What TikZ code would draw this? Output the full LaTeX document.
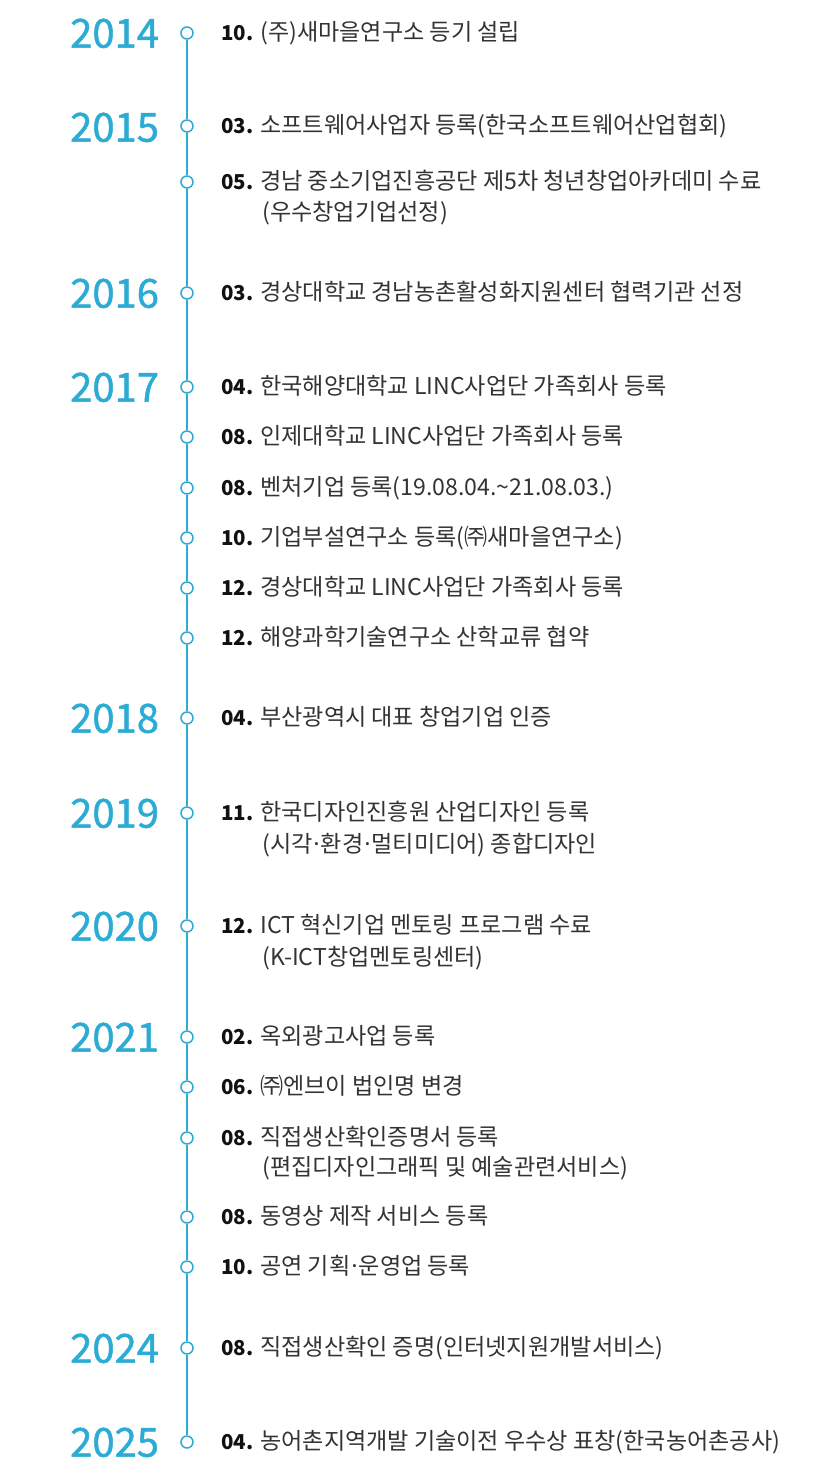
\documentclass[tikz,border=0pt]{standalone}
\usepackage{fontspec}
\setmainfont{Noto Sans CJK KR}
\newfontfamily\yearfont[FakeBold=1.2]{Noto Sans CJK KR}
\definecolor{tlblue}{HTML}{2CACD5}
\definecolor{txtgray}{HTML}{333333}
\definecolor{numblack}{HTML}{111111}
\begin{document}
\begin{tikzpicture}[x=1pt,y=-1pt,
  yearlbl/.style={anchor=base west, text=tlblue, font=\yearfont\fontsize{40}{40}\selectfont, inner sep=0pt},
  itemlbl/.style={anchor=base west, text=txtgray, font=\fontsize{23.1}{26}\selectfont, inner sep=0pt},
  tldot/.style={circle, draw=tlblue, fill=white, line width=1.5pt, minimum size=12pt, inner sep=0pt},
  tlline/.style={draw=tlblue, line width=1.4pt}]
\useasboundingbox[fill=white] (0,0) rectangle (834,1480);
\newcommand\num[1]{{\fontsize{20.5}{24}\selectfont\bfseries\color{numblack}#1}}
\newcommand\md{\kern-0.1em·\kern-0.1em}
\newcommand\tlitem[4]{%
  \node[tldot] (d#1) at (187,#2) {};
  \node[itemlbl] (t#1) at (221,#2+7.8) {\num{#3} #4};}
\newcommand\tlcont[3]{%
  \node[itemlbl] (u#1) at (262,#2+7.8) {#3};}
\newcommand\tlyear[3]{%
  \node[yearlbl] (y#1) at (70,#2+14.7) {#3};}

% years
\tlyear{a}{33}{2014}
\tlyear{b}{127}{2015}
\tlyear{d}{293}{2016}
\tlyear{e}{387}{2017}
\tlyear{k}{718}{2018}
\tlyear{l}{813}{2019}
\tlyear{m}{926}{2020}
\tlyear{n}{1037}{2021}
\tlyear{s}{1348}{2024}
\tlyear{t}{1442}{2025}

% items
\tlitem{a}{33}{10.}{(주)새마을연구소 등기 설립}
\tlitem{b}{126}{03.}{소프트웨어사업자 등록(한국소프트웨어산업협회)}
\tlitem{c}{182}{05.}{경남 중소기업진흥공단 제5차 청년창업아카데미 수료}
\tlcont{c}{213}{(우수창업기업선정)}
\tlitem{d}{293}{03.}{경상대학교 경남농촌활성화지원센터 협력기관 선정}
\tlitem{e}{387}{04.}{한국해양대학교 LINC사업단 가족회사 등록}
\tlitem{f}{437}{08.}{인제대학교 LINC사업단 가족회사 등록}
\tlitem{g}{488}{08.}{벤처기업 등록(19.08.04.\textasciitilde21.08.03.)}
\tlitem{h}{538}{10.}{기업부설연구소 등록(㈜새마을연구소)}
\tlitem{i}{588}{12.}{경상대학교 LINC사업단 가족회사 등록}
\tlitem{j}{638}{12.}{해양과학기술연구소 산학교류 협약}
\tlitem{k}{718}{04.}{부산광역시 대표 창업기업 인증}
\tlitem{l}{813}{11.}{한국디자인진흥원 산업디자인 등록}
\tlcont{l}{845}{(시각\md 환경\md 멀티미디어) 종합디자인}
\tlitem{m}{926}{12.}{ICT 혁신기업 멘토링 프로그램 수료}
\tlcont{m}{958}{(K-ICT창업멘토링센터)}
\tlitem{n}{1037}{02.}{옥외광고사업 등록}
\tlitem{o}{1087}{06.}{㈜엔브이 법인명 변경}
\tlitem{p}{1138}{08.}{직접생산확인증명서 등록}
\tlcont{p}{1168}{(편집디자인그래픽 및 예술관련서비스)}
\tlitem{q}{1217}{08.}{동영상 제작 서비스 등록}
\tlitem{r}{1267}{10.}{공연 기획\md 운영업 등록}
\tlitem{s}{1348}{08.}{직접생산확인 증명(인터넷지원개발서비스)}
\tlitem{t}{1442}{04.}{농어촌지역개발 기술이전 우수상 표창(한국농어촌공사)}

% connectors between consecutive dots
\foreach \p/\q in {a/b,b/c,c/d,d/e,e/f,f/g,g/h,h/i,i/j,j/k,k/l,l/m,m/n,n/o,o/p,p/q,q/r,r/s,s/t}
  \draw[tlline] (d\p.south) -- (d\q.north);
\end{tikzpicture}
\end{document}
